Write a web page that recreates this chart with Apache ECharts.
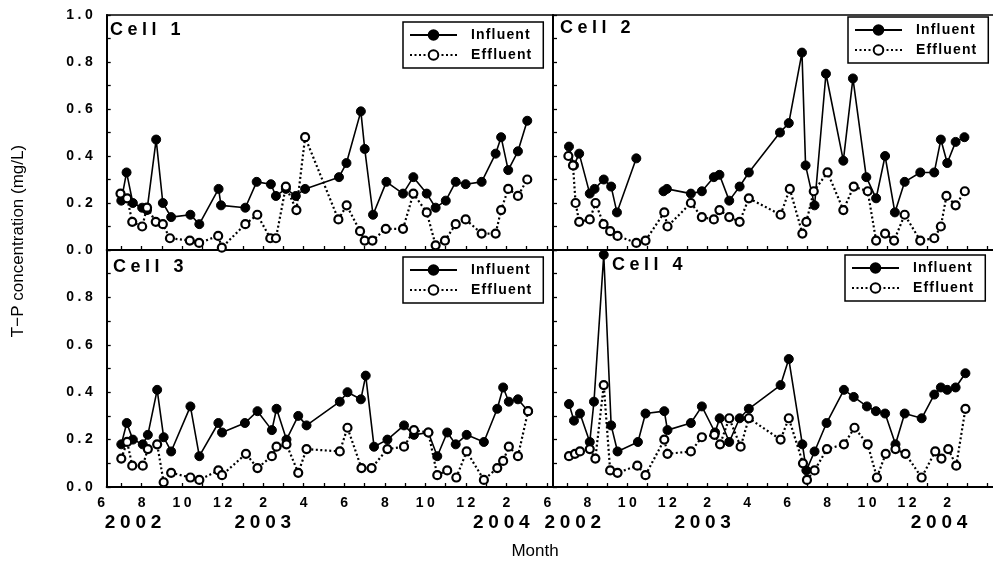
<!DOCTYPE html>
<html>
<head>
<meta charset="utf-8">
<script src="https://cdn.jsdelivr.net/npm/echarts@6/dist/echarts.min.js"></script>
<style>
  html, body { margin: 0; padding: 0; background: #fff; }
  #chart { width: 993px; height: 564px; }
</style>
</head>
<body>
<div id="chart"></div>
<script>
// Time axis: t = month counted from January 2002 (t = 6 -> June 2002, t = 14 -> February 2003).
const cellNames = ['Cell 1', 'Cell 2', 'Cell 3', 'Cell 4'];
const seriesNames = ['Influent', 'Effluent'];
const monthTickValues = [7, 8, 9, 10, 11, 12, 13, 14, 15, 16, 17, 18, 19, 20, 21, 22, 23, 24, 25, 26, 27, 28];
const monthLabelValues = [8, 10, 12, 14, 16, 18, 20, 22, 24, 26];
const firstMonthLabel = 6;
const yearLabelValuesLeft = [7.58, 13.98, 25.75];
const yearLabelValuesRight = [7.27, 13.77, 25.6];
const yTickLabels = [0, 0.2, 0.4, 0.6, 0.8, 1.0];

// T-P concentration (mg/L), [month, value]
const cell1Influent = [[7.00,0.21],[7.26,0.33],[7.57,0.20],[8.03,0.18],[8.27,0.17],[8.72,0.47],[9.05,0.20],[9.46,0.14],[10.41,0.15],[10.85,0.11],[11.80,0.26],[11.92,0.19],[13.12,0.18],[13.68,0.29],[14.38,0.28],[14.63,0.23],[15.12,0.26],[15.61,0.23],[16.07,0.26],[17.74,0.31],[18.11,0.37],[18.82,0.59],[19.01,0.43],[19.42,0.15],[20.08,0.29],[20.90,0.24],[21.41,0.31],[22.07,0.24],[22.51,0.18],[23.01,0.21],[23.50,0.29],[23.99,0.28],[24.78,0.29],[25.47,0.41],[25.74,0.48],[26.09,0.34],[26.57,0.42],[27.03,0.55]];
const cell1Effluent = [[6.96,0.24],[7.29,0.22],[7.54,0.12],[8.03,0.10],[8.27,0.18],[8.70,0.12],[9.05,0.11],[9.40,0.05],[10.38,0.04],[10.84,0.03],[11.78,0.06],[11.96,0.01],[13.12,0.11],[13.71,0.15],[14.35,0.05],[14.63,0.05],[15.12,0.27],[15.64,0.17],[16.07,0.48],[17.71,0.13],[18.12,0.19],[18.78,0.08],[19.01,0.04],[19.39,0.04],[20.05,0.09],[20.90,0.09],[21.41,0.24],[22.07,0.16],[22.51,0.02],[22.97,0.04],[23.50,0.11],[23.99,0.13],[24.78,0.07],[25.47,0.07],[25.74,0.17],[26.09,0.26],[26.57,0.23],[27.03,0.30]];

const cell2Influent = [[7.08,0.44],[7.33,0.36],[7.59,0.41],[8.12,0.24],[8.36,0.26],[8.82,0.30],[9.19,0.27],[9.48,0.16],[10.45,0.39],[11.1,null],[11.81,0.25],[11.98,0.26],[13.18,0.24],[13.73,0.25],[14.33,0.31],[14.61,0.32],[15.10,0.21],[15.62,0.27],[16.08,0.33],[17.64,0.50],[18.08,0.54],[18.74,0.84],[18.92,0.36],[19.37,0.19],[19.94,0.75],[20.81,0.38],[21.29,0.73],[21.96,0.31],[22.45,0.22],[22.90,0.40],[23.39,0.16],[23.88,0.29],[24.66,0.33],[25.36,0.33],[25.69,0.47],[26.01,0.37],[26.43,0.46],[26.87,0.48]];
const cell2Effluent = [[7.05,0.40],[7.28,0.36],[7.41,0.20],[7.59,0.12],[8.12,0.13],[8.41,0.20],[8.81,0.11],[9.14,0.08],[9.51,0.06],[10.45,0.03],[10.91,0.04],[11.85,0.16],[12.01,0.10],[13.18,0.20],[13.73,0.14],[14.33,0.13],[14.61,0.17],[15.10,0.14],[15.62,0.12],[16.08,0.22],[17.67,0.15],[18.13,0.26],[18.76,0.07],[18.96,0.12],[19.33,0.25],[20.02,0.33],[20.81,0.17],[21.33,0.27],[22.03,0.25],[22.45,0.04],[22.90,0.07],[23.35,0.04],[23.88,0.15],[24.66,0.04],[25.36,0.05],[25.69,0.10],[25.97,0.23],[26.43,0.19],[26.89,0.25]];

const cell3Influent = [[7.00,0.18],[7.27,0.27],[7.57,0.20],[8.06,0.18],[8.31,0.22],[8.77,0.41],[9.09,0.21],[9.46,0.15],[10.41,0.34],[10.85,0.13],[11.79,0.27],[11.97,0.23],[13.10,0.27],[13.72,0.32],[14.43,0.24],[14.66,0.33],[15.15,0.20],[15.73,0.30],[16.14,0.26],[17.78,0.36],[18.16,0.40],[18.82,0.37],[19.06,0.47],[19.47,0.17],[20.13,0.20],[20.95,0.26],[21.44,0.22],[22.15,0.23],[22.59,0.13],[23.08,0.23],[23.50,0.18],[24.04,0.22],[24.89,0.19],[25.55,0.33],[25.84,0.42],[26.12,0.36],[26.57,0.37],[27.07,0.32]];
const cell3Effluent = [[7.00,0.12],[7.29,0.19],[7.54,0.09],[8.06,0.09],[8.31,0.16],[8.77,0.18],[9.09,0.02],[9.46,0.06],[10.41,0.04],[10.85,0.03],[11.79,0.07],[11.97,0.05],[13.15,0.14],[13.72,0.08],[14.43,0.13],[14.66,0.17],[15.15,0.18],[15.73,0.06],[16.14,0.16],[17.78,0.15],[18.16,0.25],[18.85,0.08],[19.35,0.08],[20.13,0.16],[20.95,0.17],[21.44,0.24],[22.15,0.23],[22.59,0.05],[23.08,0.07],[23.53,0.04],[24.04,0.15],[24.89,0.03],[25.55,0.08],[25.84,0.11],[26.12,0.17],[26.57,0.13],[27.07,0.32]];

const cell4Influent = [[7.08,0.35],[7.33,0.28],[7.63,0.31],[8.12,0.19],[8.33,0.36],[8.82,0.98],[9.19,0.26],[9.51,0.15],[10.53,0.19],[10.91,0.31],[11.85,0.32],[12.01,0.24],[13.18,0.27],[13.73,0.34],[14.39,0.23],[14.62,0.29],[15.10,0.19],[15.62,0.29],[16.08,0.33],[17.67,0.43],[18.08,0.54],[18.76,0.18],[18.96,0.07],[19.37,0.15],[19.97,0.27],[20.84,0.41],[21.33,0.38],[21.99,0.34],[22.44,0.32],[22.90,0.31],[23.42,0.18],[23.88,0.31],[24.73,0.29],[25.36,0.39],[25.69,0.42],[26.01,0.41],[26.43,0.42],[26.92,0.48]];
const cell4Effluent = [[7.08,0.13],[7.38,0.14],[7.63,0.15],[8.12,0.16],[8.40,0.12],[8.82,0.43],[9.14,0.07],[9.51,0.06],[10.50,0.09],[10.91,0.05],[11.85,0.20],[12.01,0.14],[13.18,0.15],[13.73,0.21],[14.36,0.22],[14.64,0.18],[15.10,0.29],[15.67,0.17],[16.08,0.29],[17.67,0.20],[18.08,0.29],[18.79,0.10],[18.99,0.03],[19.37,0.07],[19.99,0.16],[20.84,0.18],[21.37,0.25],[22.03,0.18],[22.49,0.04],[22.93,0.14],[23.42,0.16],[23.92,0.14],[24.73,0.04],[25.41,0.15],[25.72,0.12],[26.06,0.16],[26.46,0.09],[26.92,0.33]];

const influentData = [cell1Influent, cell2Influent, cell3Influent, cell4Influent];
const effluentData = [cell1Effluent, cell2Effluent, cell3Effluent, cell4Effluent];

// ---- layout and style ----
const FONT = '"Liberation Sans", Arial, Helvetica, sans-serif';
const INK = '#000';
const X_MIN = 6.28, X_MAX = 28.3;
const track = (s, gap) => String(s).split('').join(gap);
const monthOf = t => ((Math.round(t) - 1) % 12) + 1;
const yearOf = t => 2002 + Math.floor((t - 1) / 12);

const grids = [
  { left: 106.7, top: 15, width: 446.3, height: 235 },
  { left: 553, top: 15, width: 447, height: 235 },
  { left: 106.7, top: 250, width: 446.3, height: 237 },
  { left: 553, top: 250, width: 447, height: 237 }
];

const xAxes = [];
const yAxes = [];
grids.forEach((g, i) => {
  const bottomRow = i >= 2;
  xAxes.push({
    gridIndex: i, type: 'value', min: X_MIN, max: X_MAX, position: 'bottom',
    axisLine: { show: true, onZero: false, lineStyle: { color: INK, width: 2 } },
    axisTick: { show: true, inside: true, length: 4, customValues: monthTickValues, lineStyle: { color: INK, width: 1.3 } },
    axisLabel: {
      show: bottomRow, customValues: monthLabelValues, margin: 9,
      color: INK, fontFamily: FONT, fontSize: 14, fontWeight: 'bold',
      formatter: v => track(monthOf(v), '\u2005')
    },
    splitLine: { show: false }
  });
  yAxes.push({
    gridIndex: i, type: 'value', min: 0, max: 1, interval: 0.1, position: 'left',
    axisLine: { show: true, onZero: false, lineStyle: { color: INK, width: 2 } },
    axisTick: { show: true, inside: true, length: 4, lineStyle: { color: INK, width: 1.3 } },
    axisLabel: {
      show: i % 2 === 0, margin: 14, color: INK, fontFamily: FONT, fontSize: 14, fontWeight: 'bold',
      formatter: v => {
        const r = Math.round(v * 10) / 10;
        if (!yTickLabels.includes(r)) return '';
        if (bottomRow && r === 1) return '';
        return track(r.toFixed(1), '\u2005');
      }
    },
    splitLine: { show: false }
  });
});
// top frame of the upper panels
[0, 1].forEach(i => xAxes.push({
  gridIndex: i, type: 'value', min: X_MIN, max: X_MAX, position: 'top',
  axisLine: { show: true, onZero: false, lineStyle: { color: INK, width: 1.5 } },
  axisTick: { show: false }, axisLabel: { show: false }, splitLine: { show: false }
}));
// year captions under the month labels
[2, 3].forEach(i => xAxes.push({
  gridIndex: i, type: 'value', min: X_MIN, max: X_MAX, position: 'bottom',
  axisLine: { show: false }, axisTick: { show: false }, splitLine: { show: false },
  axisLabel: {
    customValues: i === 2 ? yearLabelValuesLeft : yearLabelValuesRight, margin: 26,
    color: INK, fontFamily: FONT, fontSize: 19, fontWeight: 'bold',
    formatter: v => track(yearOf(v), '\u2005')
  }
}));

const series = [];
grids.forEach((g, i) => {
  series.push({
    name: seriesNames[0], type: 'line', xAxisIndex: i, yAxisIndex: i,
    data: influentData[i], connectNulls: false,
    symbol: 'circle', symbolSize: 9, showAllSymbol: true,
    lineStyle: { color: INK, width: 1.6 },
    itemStyle: { color: INK, borderColor: INK, borderWidth: 1 },
    emphasis: { disabled: true }, animation: false, z: 2
  });
  series.push({
    name: seriesNames[1], type: 'line', xAxisIndex: i, yAxisIndex: i,
    data: effluentData[i],
    symbol: 'circle', symbolSize: 8, showAllSymbol: true,
    lineStyle: { color: INK, width: 2.2, type: [2, 2.5] },
    itemStyle: { color: '#fff', borderColor: INK, borderWidth: 2.2 },
    emphasis: { disabled: true }, animation: false, z: 3
  });
});

const legendSpots = [
  { left: 403, top: 22 }, { left: 848, top: 17 },
  { left: 403, top: 257 }, { left: 845, top: 255 }
];
const legends = legendSpots.map(p => ({
  left: p.left, top: p.top, orient: 'vertical', data: seriesNames,
  itemWidth: 47, itemHeight: 12, itemGap: 6, selectedMode: false,
  borderColor: INK, borderWidth: 1.5, borderRadius: 0, padding: [6, 12, 6, 6],
  backgroundColor: '#fff',
  textStyle: { color: INK, fontFamily: FONT, fontSize: 14, fontWeight: 'bold', padding: [0, 0, 0, 9] },
  formatter: name => track(name, '\u200a')
}));

const cellTitleSpots = [
  { left: 110, top: 21 }, { left: 560, top: 19 },
  { left: 113, top: 258 }, { left: 612, top: 256 }
];
const titles = cellTitleSpots.map((p, i) => ({
  text: track(cellNames[i], '\u2005'), left: p.left, top: p.top, padding: 0,
  textStyle: { color: INK, fontFamily: FONT, fontSize: 18, fontWeight: 'bold' }
}));

const axisTitles = [
  { type: 'text', x: 18, y: 241, rotation: Math.PI / 2,
    style: { text: 'T\u2212P concentration (mg/L)', fill: INK, font: '17px ' + FONT, align: 'center', verticalAlign: 'middle' } },
  { type: 'text', x: 535, y: 551,
    style: { text: 'Month', fill: INK, font: '17px ' + FONT, align: 'center', verticalAlign: 'middle' } }
];

const chart = echarts.init(document.getElementById('chart'), null, { renderer: 'canvas' });
chart.setOption({
  backgroundColor: '#fff',
  animation: false,
  title: titles,
  legend: legends,
  grid: grids,
  xAxis: xAxes,
  yAxis: yAxes,
  series: series,
  graphic: axisTitles
});

// The June 2002 tick sits just left of each lower panel's frame; place its label from the axis scale.
const monthLabelY = grids[2].top + grids[2].height + 9;
const extraLabels = [2, 3].map(i => ({
  type: 'text',
  x: chart.convertToPixel({ xAxisIndex: i }, firstMonthLabel),
  y: monthLabelY,
  style: { text: String(monthOf(firstMonthLabel)), fill: INK, font: 'bold 14px ' + FONT, align: 'center', verticalAlign: 'top' }
}));
chart.setOption({ graphic: axisTitles.concat(extraLabels) }, { replaceMerge: ['graphic'] });
</script>
</body>
</html>
